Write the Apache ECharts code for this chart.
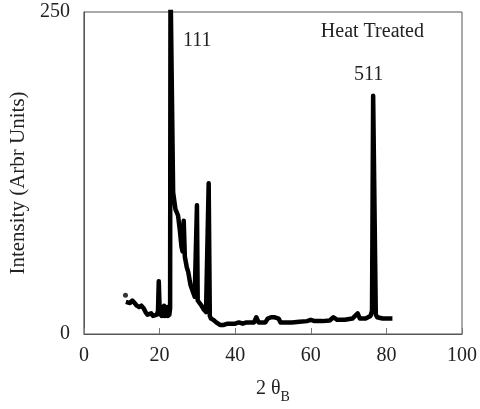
<!DOCTYPE html>
<html>
<head>
<meta charset="utf-8">
<script src="https://cdn.jsdelivr.net/npm/echarts@6/dist/echarts.min.js"></script>
<style>html,body{margin:0;padding:0;background:#fff;}#c{width:480px;height:409px;}</style>
</head>
<body>
<div id="c"></div>
<script>
// 2θ values (degrees)
var twoTheta = [11.1,11.6,12.2,12.8,13.4,14.0,14.6,15.2,15.8,16.3,16.8,17.3,17.8,18.3,18.8,19.3,19.6,19.8,20.0,20.2,20.4,20.6,20.8,21.0,21.2,21.4,21.6,21.8,22.0,22.2,22.4,22.6,22.8,22.9,23.6,24.2,24.9,25.4,25.8,26.1,26.4,26.7,27.2,27.6,28.2,28.8,29.3,29.7,29.9,30.1,30.5,31.1,31.7,32.3,32.8,33.0,33.3,33.6,34.2,35.0,36.0,37.0,38.0,39.0,40.0,41.0,42.0,43.0,44.0,45.0,45.6,46.2,47.0,48.0,48.6,49.5,50.5,51.5,52.0,53.0,55.0,57.0,59.0,60.0,61.0,63.0,65.0,66.0,67.0,69.0,71.0,72.4,73.0,74.5,75.8,76.2,76.5,77.2,77.6,78.0,79.0,80.0,81.0,81.6];
// intensity (arb. units)
var intensity = [25,26,24,26,24,22,21,22,20,17,15,14,16,14,15,15,18,41,22,15,21,14,20,15,22,14,20,15,21,14,20,15,20,275,110,97,92,80,68,64,88,60,52,48,38,33,29,28,100,26,25,22,19,17,16,117,14,12,11,9,7,7,8,8,8,9,8,9,9,9,13,9,9,9,12,13,13,12,9,9,9,9.5,10,11,10,10,10.5,13,11,11,12,16,12,12,14,18,185,15,13,13,12,12,12,12];
// isolated first point
var startPoint = [[11.0, 30]];
// peak annotations [label, 2θ, intensity]
var peakLabels = [["111", 30, 228], ["511", 75.3, 201], ["Heat Treated", 76.3, 234.5]];

var lineData = twoTheta.map(function(x,i){return [x, intensity[i]];});
var font = "Liberation Serif";
var chart = echarts.init(document.getElementById('c'), null, {renderer:'canvas'});
chart.setOption({
  animation:false,
  backgroundColor:'#fff',
  grid:{left:82,right:18,top:12,bottom:74,show:true,borderColor:'#555',borderWidth:1},
  xAxis:{
    type:'value',min:0,max:100,interval:20,
    name:'2 θ{sub|B}',nameLocation:'middle',nameGap:40,
    nameTextStyle:{fontFamily:font,fontSize:20,color:'#222',
      rich:{sub:{fontFamily:font,fontSize:14,color:'#222',verticalAlign:'bottom',padding:[16,0,0,0]}}},
    axisLine:{lineStyle:{color:'#555',width:1}},
    axisTick:{inside:true,length:6,lineStyle:{color:'#777'}},
    axisLabel:{fontFamily:font,fontSize:20,color:'#222',margin:12},
    splitLine:{show:false}
  },
  yAxis:{
    type:'value',min:0,max:250,interval:250,
    name:'Intensity (Arbr Units)',nameLocation:'middle',nameGap:49,
    nameTextStyle:{fontFamily:font,fontSize:21,color:'#222',padding:[0,20,0,0]},
    axisLine:{show:true,lineStyle:{color:'#555',width:1}},
    axisTick:{show:false},
    axisLabel:{fontFamily:font,fontSize:20,color:'#222',margin:14,padding:[8,0,0,0]},
    splitLine:{show:false}
  },
  series:[
    {type:'line',data:lineData,showSymbol:false,clip:true,
     lineStyle:{color:'#000',width:4.5,join:'round'},
     markPoint:{symbol:'circle',symbolSize:0,
       data:peakLabels.map(function(p){return {coord:[p[1],p[2]],value:p[0],
         label:{show:true,position:'inside',formatter:p[0],fontFamily:font,fontSize:20,color:'#222'}};})}
    },
    {type:'scatter',data:startPoint,symbolSize:5,itemStyle:{color:'#000'}}
  ]
});
</script>
</body>
</html>
